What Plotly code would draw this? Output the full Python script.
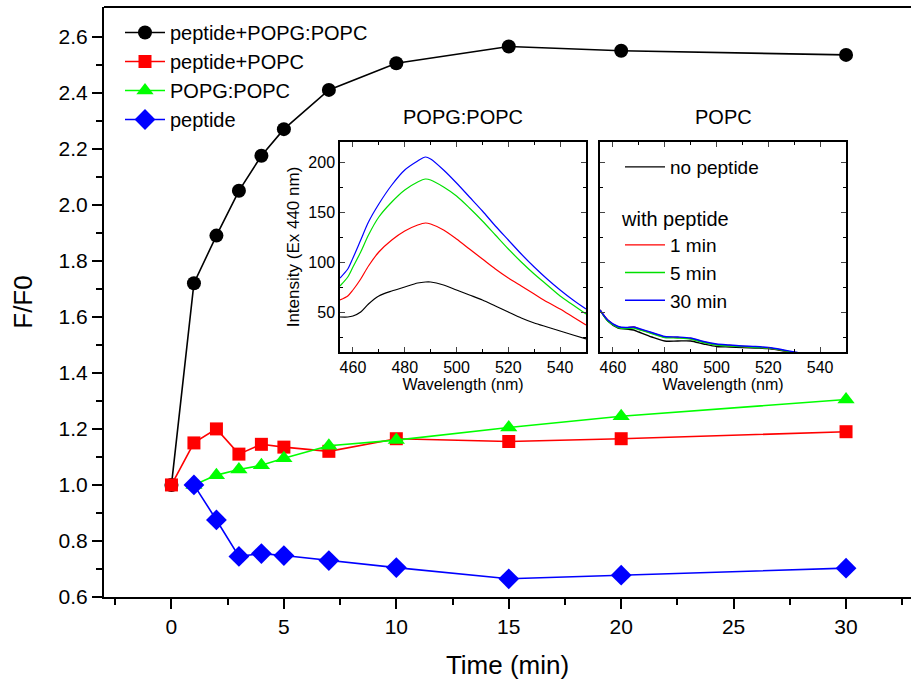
import plotly.graph_objects as go

# ---------------- main kinetics data ----------------
time_black = [0, 1, 2, 3, 4, 5, 7, 10, 15, 20, 30]
ff0_black = [1.0, 1.72, 1.89, 2.05, 2.175, 2.27, 2.41, 2.505, 2.565, 2.55, 2.535]

time_red = [0, 1, 2, 3, 4, 5, 7, 10, 15, 20, 30]
ff0_red = [1.0, 1.15, 1.20, 1.11, 1.145, 1.135, 1.12, 1.165, 1.155, 1.165, 1.19]

time_green = [1, 2, 3, 4, 5, 7, 10, 15, 20, 30]
ff0_green = [1.0, 1.035, 1.055, 1.07, 1.095, 1.14, 1.16, 1.205, 1.245, 1.305]

time_blue = [1, 2, 3, 4, 5, 7, 10, 15, 20, 30]
ff0_blue = [1.0, 0.875, 0.745, 0.755, 0.748, 0.73, 0.705, 0.665, 0.678, 0.703]

main_names = ["peptide+POPG:POPC", "peptide+POPC", "POPG:POPC", "peptide"]

# ---------------- inset spectra: POPG:POPC ----------------
wl_pg = [455, 458, 460, 463, 466, 470, 475, 480, 485, 488, 490, 495, 500, 505, 510, 515, 520, 525, 530, 535, 540, 545, 550]
pg_none = [45, 45, 46, 50, 58, 66, 71, 75, 79, 80, 80, 77, 72, 67, 62, 56, 50, 44, 39, 35, 31, 27, 23]
pg_1min = [62, 66, 72, 83, 96, 110, 122, 131, 137, 139, 138, 132, 123, 113, 103, 93, 84, 76, 68, 60, 53, 45, 37]
pg_5min = [76, 85, 95, 110, 127, 145, 160, 172, 180, 183, 182, 175, 166, 154, 141, 127, 113, 100, 88, 77, 66, 57, 48]
pg_30min = [84, 93, 104, 122, 140, 158, 177, 192, 201, 205, 203, 192, 179, 165, 151, 136, 122, 108, 95, 83, 72, 62, 53]

# ---------------- inset spectra: POPC ----------------
wl_pc = [455, 458, 462, 465, 468, 470, 475, 480, 485, 490, 495, 500, 505, 510, 515, 520, 525, 530, 540, 550]
pc_none = [52, 41, 34, 33, 32, 30, 25, 21, 21, 21, 18, 15.5, 15, 14.5, 14, 13.5, 11.5, 9.5, 6, 4]
pc_1min = [52, 42, 35, 34, 35, 33, 29, 25, 24.5, 23.5, 20, 17.5, 16.5, 15.5, 15, 14, 12, 9.5, 6, 4]
pc_5min = [52, 41, 34.5, 33.5, 34, 32.5, 28.5, 24.5, 24, 23, 19.5, 17, 16, 15.5, 14.5, 14, 12, 9.5, 6, 4]
pc_30min = [52, 42, 35.5, 34.5, 35, 33.5, 29.5, 25.5, 25, 24, 20.5, 18, 17, 16, 15.5, 14.5, 12.5, 10, 6, 4]

spec_names = ["no peptide", "1 min", "5 min", "30 min"]
spec_colors = ["#000000", "#FF0000", "#00E000", "#0000FF"]

FONT = "Liberation Sans, Arial, sans-serif"
W, H = 911, 683

fig = go.Figure()

main_sets = [
    (time_black, ff0_black, "#000000", "circle", 14),
    (time_red, ff0_red, "#FF0000", "square", 13),
    (time_green, ff0_green, "#00FF00", "triangle-up", 15),
    (time_blue, ff0_blue, "#0000FF", "diamond", 16),
]
for (xs, ys, col, sym, sz), nm in zip(main_sets, main_names):
    fig.add_trace(go.Scatter(
        x=xs, y=ys, name=nm, mode="lines+markers",
        line=dict(color=col, width=1.6),
        marker=dict(color=col, symbol=sym, size=sz),
        xaxis="x", yaxis="y", legend="legend"))

for ys, col in zip([pg_none, pg_1min, pg_5min, pg_30min], spec_colors):
    fig.add_trace(go.Scatter(
        x=wl_pg, y=ys, mode="lines", line=dict(color=col, width=1.2, shape="spline", smoothing=0.8),
        showlegend=False, xaxis="x2", yaxis="y2"))

for i, (ys, col, nm) in enumerate(zip([pc_none, pc_1min, pc_5min, pc_30min], spec_colors, spec_names)):
    fig.add_trace(go.Scatter(
        x=wl_pc, y=ys, mode="lines", name=nm, line=dict(color=col, width=1.4, shape="spline", smoothing=0.8),
        xaxis="x3", yaxis="y3", legend="legend2" if i == 0 else "legend3"))

# domains from pixel boxes
def px_x(a, b):
    return [a / W, b / W]

def px_y(top, bottom):
    return [(H - bottom) / H, (H - top) / H]

main_x = px_x(104, 911)
main_y = px_y(7, 597)
in1_x = px_x(340, 586)
in2_x = px_x(600, 846)
in_y = px_y(142, 352)

tickfont_main = dict(family=FONT, size=21, color="#000")
tickfont_in = dict(family=FONT, size=16, color="#000")

inset_x_common = dict(
    range=[455, 550], dtick=20, tick0=460, ticks="inside", ticklen=5, tickwidth=1.2,
    showline=True, linewidth=1.5, linecolor="#000", mirror="ticks", showgrid=False, zeroline=False,
    minor=dict(ticks="inside", ticklen=3, dtick=10, tick0=460, tickcolor="#000"),
    tickfont=tickfont_in, automargin=False,
    title=dict(text="Wavelength (nm)", font=dict(family=FONT, size=16, color="#000"), standoff=2),
)
inset_y_common = dict(
    range=[10, 220], dtick=50, tick0=50, ticks="inside", ticklen=5, tickwidth=1.2,
    showline=True, linewidth=1.5, linecolor="#000", mirror="ticks", showgrid=False, zeroline=False,
    minor=dict(ticks="inside", ticklen=3, dtick=25, tick0=0, tickcolor="#000"),
    tickfont=tickfont_in, automargin=False,
)

fig.update_layout(
    width=W, height=H,
    margin=dict(l=0, r=0, t=0, b=0, autoexpand=False),
    paper_bgcolor="white", plot_bgcolor="rgba(0,0,0,0)",
    font=dict(family=FONT, color="#000"),
    xaxis=dict(
        domain=main_x, range=[-3, (911 - 171) / 22.5], tickvals=[0, 5, 10, 15, 20, 25, 30],
        ticks="outside", ticklen=10, tickwidth=1.6, tickcolor="#000",
        minor=dict(ticks="outside", ticklen=6, tickvals=[-2.5, 2.5, 7.5, 12.5, 17.5, 22.5, 27.5, 32.5], tickcolor="#000", tickwidth=1.6),
        showline=True, linewidth=2, linecolor="#000", mirror=False,
        showgrid=False, zeroline=False, tickfont=tickfont_main, automargin=False,
        title=dict(text="Time (min)", font=dict(family=FONT, size=26, color="#000"), standoff=19),
        anchor="y",
    ),
    yaxis=dict(
        domain=main_y, range=[0.6, 2.706], tickvals=[0.6, 0.8, 1.0, 1.2, 1.4, 1.6, 1.8, 2.0, 2.2, 2.4, 2.6],
        ticktext=["0.6", "0.8", "1.0", "1.2", "1.4", "1.6", "1.8", "2.0", "2.2", "2.4", "2.6"],
        ticks="outside", ticklen=10, tickwidth=1.6, tickcolor="#000",
        minor=dict(ticks="outside", ticklen=6, tickvals=[0.7, 0.9, 1.1, 1.3, 1.5, 1.7, 1.9, 2.1, 2.3, 2.5], tickcolor="#000", tickwidth=1.6),
        showline=True, linewidth=2, linecolor="#000", mirror=False,
        showgrid=False, zeroline=False, tickfont=tickfont_main, automargin=False,
        title=dict(text="F/F0", font=dict(family=FONT, size=26, color="#000"), standoff=18),
        anchor="x",
    ),
    xaxis2=dict(domain=in1_x, anchor="y2", **inset_x_common),
    yaxis2=dict(domain=in_y, anchor="x2",
                title=dict(text="Intensity (Ex 440 nm)", font=dict(family=FONT, size=17, color="#000"), standoff=4),
                **inset_y_common),
    xaxis3=dict(domain=in2_x, anchor="y3", **inset_x_common),
    yaxis3=dict(domain=in_y, anchor="x3", showticklabels=False, **inset_y_common),
    legend=dict(x=120 / W, y=(H - 13) / H, xanchor="left", yanchor="top",
                bgcolor="rgba(0,0,0,0)", font=dict(family=FONT, size=20, color="#000"),
                tracegroupgap=0, itemwidth=40),
    legend2=dict(x=620 / W, y=(H - 148) / H, xanchor="left", yanchor="top",
                 bgcolor="rgba(0,0,0,0)", font=dict(family=FONT, size=19, color="#000"), itemwidth=40),
    legend3=dict(x=620 / W, y=(H - 200) / H, xanchor="left", yanchor="top",
                 bgcolor="rgba(0,0,0,0)", font=dict(family=FONT, size=19, color="#000"), itemwidth=40,
                 title=dict(text="with peptide", font=dict(family=FONT, size=20, color="#000"), side="top")),
    annotations=[
        dict(text="POPG:POPC", x=sum(in1_x) / 2, y=(H - 117) / H, xref="paper", yref="paper",
             xanchor="center", yanchor="middle",
             showarrow=False, font=dict(family=FONT, size=20, color="#000")),
        dict(text="POPC", x=sum(in2_x) / 2, y=(H - 117) / H, xref="paper", yref="paper",
             xanchor="center", yanchor="middle",
             showarrow=False, font=dict(family=FONT, size=20, color="#000")),
    ],
    shapes=[
        dict(type="line", xref="paper", yref="paper", x0=main_x[0], x1=1, y0=main_y[1], y1=main_y[1],
             line=dict(color="#000", width=2)),
    ],
)

fig.write_html("out.html")
